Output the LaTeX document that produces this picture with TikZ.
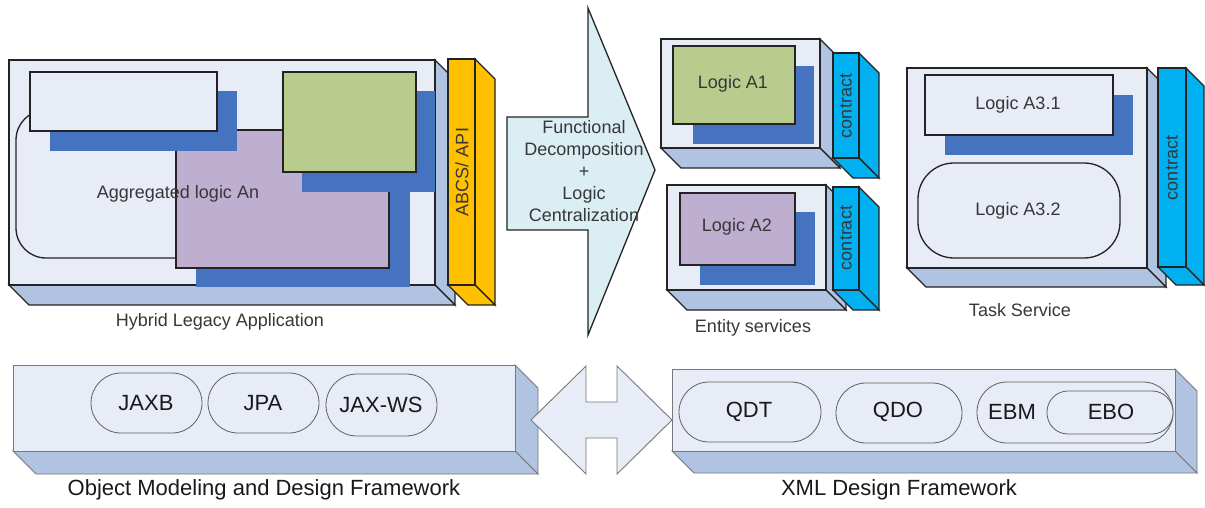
\documentclass[tikz,border=0pt]{standalone}
\usepackage{fontspec}
\setmainfont{Liberation Sans}
\definecolor{faceC}{RGB}{231,236,246}
\definecolor{sideC}{RGB}{176,196,226}
\definecolor{shadowC}{RGB}{70,115,192}
\definecolor{greenC}{RGB}{186,204,141}
\definecolor{purpleC}{RGB}{190,175,208}
\definecolor{orangeC}{RGB}{255,192,0}
\definecolor{cyanC}{RGB}{0,176,240}
\definecolor{arrowC}{RGB}{218,238,243}
\definecolor{textC}{RGB}{55,55,55}
\definecolor{lineC}{RGB}{35,35,35}
\definecolor{glineC}{RGB}{120,120,120}
\newcommand{\mycuboid}[7]{%
  \filldraw[#7] (#3,#2) -- ++(#5,#5) -- ++(0,#4-#2) -- (#3,#4) -- cycle;
  \filldraw[#7] (#1,#4) -- (#3,#4) -- ++(#5,#5) -- ++(#1-#3,0) -- cycle;
  \filldraw[#6] (#1,#2) rectangle (#3,#4);
}
\tikzset{
  topline/.style={draw=lineC, line width=1.3pt, line join=miter},
  botline/.style={draw=glineC, line width=0.9pt},
  tface/.style={topline, fill=faceC},
  tside/.style={topline, fill=sideC},
  bface/.style={botline, fill=faceC},
  bside/.style={botline, fill=sideC},
  orangebar/.style={topline, fill=orangeC},
  cyanbar/.style={topline, fill=cyanC},
  shadowbox/.style={fill=shadowC},
  greenbox/.style={topline, fill=greenC},
  purplebox/.style={topline, fill=purpleC},
  whitebox/.style={topline, fill=faceC},
  stadium/.style={draw=glineC!80!black, line width=0.8pt, fill=faceC},
  txt/.style={font=\fontsize{18}{22}\selectfont, text=textC, inner sep=0pt},
  btxt/.style={font=\fontsize{22}{26}\selectfont, text=black!90, inner sep=0pt},
}
\begin{document}
\begin{tikzpicture}[x=1pt,y=-1pt]
\useasboundingbox (0,0) rectangle (1205,508);

% ---------- Hybrid legacy application ----------
\mycuboid{9}{60}{435}{285}{20}{tface}{tside}
\filldraw[whitebox, rounded corners=30pt] (16,110) rectangle (220,258);
\fill[shadowbox] (196,150) rectangle (410,287);
\filldraw[purplebox] (176,130) rectangle (389,268);
\fill[shadowbox] (50,91) rectangle (237,151);
\filldraw[whitebox] (30,72) rectangle (217,131);
\fill[shadowbox] (302,91) rectangle (435,192);
\filldraw[greenbox] (283,72) rectangle (416,172);
\node[txt] (agg) at (178,194) {Aggregated logic An};
\mycuboid{448}{59}{475}{285}{20}{orangebar}{orangebar}
\node[txt, rotate=90] (abcs) at (462,172) {ABCS/ API};
\node[txt] (hla) at (220,322) {Hybrid Legacy Application};

% ---------- big arrow ----------
\filldraw[topline, fill=arrowC] (507,117) -- (588,117) -- (588,8) -- (655,170)
  -- (588,335) -- (588,230) -- (507,230) -- cycle;
\node[txt, align=center] (fd) at (584,171)
  {Functional\\Decomposition\\+\\Logic\\Centralization};

% ---------- entity services ----------
\mycuboid{661}{39}{820}{148}{20}{tface}{tside}
\fill[shadowbox] (693,66) rectangle (814,144);
\filldraw[greenbox] (673,46) rectangle (795,124);
\node[txt] (la1) at (733,84) {Logic A1};
\mycuboid{833}{53}{859}{158}{20}{cyanbar}{cyanbar}
\node[txt, rotate=90] (c1) at (846,106) {contract};

\mycuboid{667}{185}{826}{290}{20}{tface}{tside}
\fill[shadowbox] (700,212) rectangle (815,285);
\filldraw[purplebox] (680,193) rectangle (795,265);
\node[txt] (la2) at (737,227) {Logic A2};
\mycuboid{833}{187}{859}{290}{20}{cyanbar}{cyanbar}
\node[txt, rotate=90] (c2) at (846,238) {contract};
\node[txt] (es) at (753,328) {Entity services};

% ---------- task service ----------
\mycuboid{907}{68}{1147}{268}{19}{tface}{tside}
\fill[shadowbox] (945,95) rectangle (1133,155);
\filldraw[whitebox] (925,75) rectangle (1113,135);
\node[txt] (la31) at (1018,105) {Logic A3.1};
\filldraw[whitebox, rounded corners=36pt] (918,163) rectangle (1120,258);
\node[txt] (la32) at (1018,211) {Logic A3.2};
\mycuboid{1158}{68}{1186}{267}{18}{cyanbar}{cyanbar}
\node[txt, rotate=90] (c3) at (1172,168) {contract};
\node[txt] (ts) at (1020,310) {Task Service};

% ---------- object modeling framework ----------
\mycuboid{13}{365}{515}{451}{23}{bface}{bside}
\filldraw[stadium, rounded corners=30pt] (91,373) rectangle (202,433);
\filldraw[stadium, rounded corners=30pt] (208,373) rectangle (319,433);
\filldraw[stadium, rounded corners=31pt] (326,374) rectangle (437,436);
\node[btxt] (jaxb) at (146,403) {JAXB};
\node[btxt] (jpa) at (263,403) {JPA};
\node[btxt] (jaxws) at (381,405) {JAX-WS};
\node[btxt] (omd) at (264,490) {Object Modeling and Design Framework};

% ---------- double arrow ----------
\filldraw[botline, fill=faceC] (531,420) -- (586,366) -- (586,402) -- (617,402)
  -- (617,366) -- (672,420) -- (617,474) -- (617,438) -- (586,438) -- (586,474) -- cycle;

% ---------- XML design framework ----------
\mycuboid{672}{369}{1175}{451}{22}{bface}{bside}
\filldraw[stadium, rounded corners=30pt] (679,382) rectangle (821,442);
\filldraw[stadium, rounded corners=30pt] (836,383) rectangle (962,443);
\filldraw[stadium, rounded corners=30pt] (977,382) rectangle (1173,443);
\filldraw[stadium, rounded corners=21pt] (1047,391) rectangle (1173,434);
\node[btxt] (qdt) at (749,412) {QDT};
\node[btxt] (qdo) at (898,412) {QDO};
\node[btxt] (ebm) at (1012,412) {EBM};
\node[btxt] (ebo) at (1111,412) {EBO};
\node[btxt] (xml) at (899,490) {XML Design Framework};
\end{tikzpicture}
\end{document}
